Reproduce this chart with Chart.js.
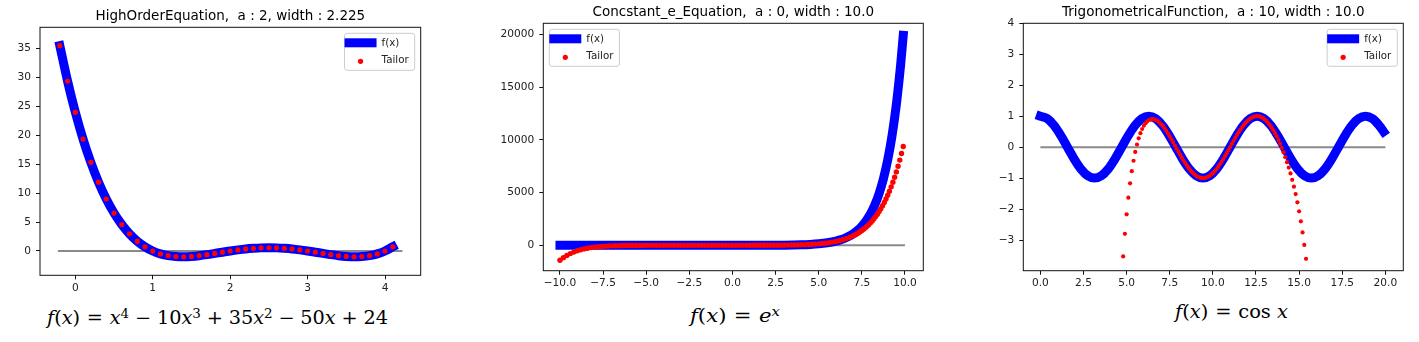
<!DOCTYPE html>
<html>
<head>
<meta charset="utf-8">
<title>Taylor series</title>
<script src="https://cdn.jsdelivr.net/npm/chart.js@4.4.0/dist/chart.umd.min.js"></script>
<style>
  body { margin: 0; background: #fff; width: 1419px; height: 342px; overflow: hidden; position: relative; }
  canvas { position: absolute; top: 0; }
  .eq { position: absolute; font-family: 'DejaVu Serif', serif; font-size: 18px; line-height: 20px;
        white-space: nowrap; transform-origin: 0 0; color: #000; }
  .eq .op { padding: 0 0.3em; }
  .eq .rel { padding: 0 0.35em; }
  .eq sup { font-size: 70%; line-height: 0; vertical-align: 0.5em; }
</style>
</head>
<body>

<canvas id="c1" width="430" height="304"></canvas>
<canvas id="c2" width="440" height="300"></canvas>
<canvas id="c3" width="434" height="300"></canvas>

<div class="eq" data-w="341" style="left:47px; top:308px;"><i>f</i>(<i>x</i>)<span class="rel">=</span><i>x</i><sup>4</sup><span class="op">&minus;</span>10<i>x</i><sup>3</sup><span class="op">+</span>35<i>x</i><sup>2</sup><span class="op">&minus;</span>50<i>x</i><span class="op">+</span>24</div>
<div class="eq" data-w="90" style="left:690px; top:306px;"><i>f</i>(<i>x</i>)<span class="rel">=</span><i>e</i><sup><i>x</i></sup></div>
<div class="eq" data-w="113" style="left:1175px; top:302px;"><i>f</i>(<i>x</i>)<span class="rel">=</span>cos <i>x</i></div>

<script>
// ================= DATA =================

const legendLabels = ["f(x)", "Tailor"];

// ---- HighOrderEquation (a = 2, width = 2.225) ----
const highTitle = "HighOrderEquation,  a : 2, width : 2.225";
const highX = [
    -0.2, -0.1, 0.0, 0.1, 0.2, 0.3, 0.4, 0.5, 0.6, 0.7, 0.8, 0.9,
    1.0, 1.1, 1.2, 1.3, 1.4, 1.5, 1.6, 1.7, 1.8, 1.9,
    2.0, 2.1, 2.2, 2.3, 2.4, 2.5, 2.6, 2.7, 2.8, 2.9,
    3.0, 3.1, 3.2, 3.3, 3.4, 3.5, 3.6, 3.7, 3.8, 3.9,
    4.0, 4.1
];
const highF = [
    35.48, 29.36, 24.0, 19.34, 15.32, 11.89, 8.99, 6.56, 4.57, 2.96, 1.69, 0.72,
    0.0, -0.50, -0.81, -0.96, -1.00, -0.94, -0.81, -0.63, -0.42, -0.21,
    0.0, 0.19, 0.35, 0.46, 0.54, 0.56, 0.54, 0.46, 0.35, 0.19,
    0.0, -0.21, -0.42, -0.63, -0.81, -0.94, -1.00, -0.96, -0.81, -0.50,
    0.0, 0.72
];
// the 4th order Taylor dots sit exactly on the curve
const highTailor = highF;
const highBase = [-0.225, 4.225];
const highXRange = [-0.456, 4.461];
const highYRange = [-4.2, 38.66];
const highXTicks = [0, 1, 2, 3, 4];
const highXLabels = ["0", "1", "2", "3", "4"];
const highYTicks = [0, 5, 10, 15, 20, 25, 30, 35];
const highYLabels = ["0", "5", "10", "15", "20", "25", "30", "35"];

// ---- Concstant_e_Equation (a = 0, width = 10.0) ----
const expTitle = "Concstant_e_Equation,  a : 0, width : 10.0";
const expFX = [-10, -8, -6, -4, -2, 0, 1, 2, 3, 4, 4.5, 5, 5.5, 6, 6.25, 6.5, 6.75, 7,
    7.25, 7.5, 7.75, 8, 8.25, 8.5, 8.75, 9, 9.25, 9.5, 9.75, 9.9];
const expFY = [0, 0, 0, 0, 0, 1, 3, 7, 20, 55, 90, 148, 245, 403, 518, 665, 854, 1097,
    1408, 1808, 2322, 2981, 3828, 4915, 6311, 8103, 10405, 13360, 17154, 19930];
const expTailorX = [
    -10, -9.8, -9.6, -9.4, -9.2, -9, -8.8, -8.6, -8.4, -8.2, -8, -7.8, -7.6, -7.4, -7.2, -7,
    -6.8, -6.6, -6.4, -6.2, -6, -5.8, -5.6, -5.4, -5.2, -5,
    -4.8, -4.6, -4.4, -4.2, -4, -3.8, -3.6, -3.4, -3.2, -3, -2.8, -2.6, -2.4, -2.2, -2,
    -1.8, -1.6, -1.4, -1.2, -1, -0.8,
    -0.6, -0.4, -0.2, 0,
    0.2, 0.4, 0.6, 0.8, 1,
    1.2, 1.4, 1.6, 1.8, 2,
    2.2, 2.4, 2.6, 2.8, 3,
    3.2, 3.4, 3.6, 3.8, 4,
    4.2, 4.4, 4.6, 4.8, 5,
    5.2, 5.4, 5.6, 5.8, 6,
    6.2, 6.4, 6.6, 6.8, 7,
    7.1, 7.2, 7.3, 7.4, 7.5, 7.6, 7.7, 7.8, 7.9, 8,
    8.1, 8.2, 8.3, 8.4, 8.5, 8.6, 8.7, 8.8, 8.9, 9,
    9.1, 9.2, 9.3, 9.4, 9.5, 9.6, 9.7, 9.8, 9.9
];
const expTailorY = [
    -1413, -1166, -959, -785, -639, -519, -419, -336, -269, -213, -169, -132, -103, -80, -61, -47,
    -36, -27, -20, -15, -11, -8, -5, -4, -3, -2,
    -1, -1, 0, 0, 0, 0, 0, 0, 0, 0, 0, 0, 0, 0, 0,
    0, 0, 0, 0, 0, 0,
    1, 1, 1, 1,
    1, 1, 2, 2, 3,
    3, 4, 5, 6, 7,
    9, 11, 13, 16, 20,
    25, 30, 37, 44, 54,
    66, 80, 98, 119, 144,
    174, 211, 254, 307, 370,
    444, 533, 639, 763, 911,
    994, 1084, 1183, 1289, 1404, 1528, 1663, 1809, 1966, 2136,
    2320, 2518, 2731, 2961, 3209, 3476, 3763, 4072, 4404, 4760,
    5142, 5553, 5993, 6466, 6972, 7513, 8093, 8714, 9377
];
const expBase = [-10, 10];
const expXRange = [-10.966, 11.063];
const expYRange = [-2406, 21076];
const expXTicks = [-10, -7.5, -5, -2.5, 0, 2.5, 5, 7.5, 10];
const expXLabels = ["\u221210.0", "\u22127.5", "\u22125.0", "\u22122.5", "0.0", "2.5", "5.0", "7.5", "10.0"];
const expYTicks = [0, 5000, 10000, 15000, 20000];
const expYLabels = ["0", "5000", "10000", "15000", "20000"];

// ---- TrigonometricalFunction (a = 10, width = 10.0) ----
const trigTitle = "TrigonometricalFunction,  a : 10, width : 10.0";
const trigFX = [
    0, 0.393, 0.785, 1.178, 1.571, 1.963, 2.356, 2.749, 3.142, 3.534, 3.927, 4.320, 4.712,
    5.105, 5.498, 5.890, 6.283, 6.676, 7.069, 7.461, 7.854, 8.247, 8.639, 9.032, 9.425,
    9.817, 10.210, 10.603, 10.996, 11.388, 11.781, 12.174, 12.566, 12.959, 13.352, 13.744,
    14.137, 14.530, 14.923, 15.315, 15.708, 16.101, 16.493, 16.886, 17.279, 17.671, 18.064,
    18.457, 18.850, 19.242, 19.635, 19.9
];
const trigFY = [
    1, 0.924, 0.707, 0.383, 0, -0.383, -0.707, -0.924, -1, -0.924, -0.707, -0.383, 0,
    0.383, 0.707, 0.924, 1, 0.924, 0.707, 0.383, 0, -0.383, -0.707, -0.924, -1,
    -0.924, -0.707, -0.383, 0, 0.383, 0.707, 0.924, 1, 0.924, 0.707, 0.383,
    0, -0.383, -0.707, -0.924, -1, -0.924, -0.707, -0.383, 0, 0.383, 0.707,
    0.924, 1, 0.924, 0.707, 0.497
];
const trigTailorX = [
    4.8, 4.9, 5.0, 5.1, 5.2, 5.3, 5.4, 5.5, 5.6, 5.7,
    5.8, 5.9, 6.0, 6.1, 6.2, 6.3, 6.4, 6.5, 6.6, 6.7,
    6.8, 6.9, 7.0, 7.1, 7.2, 7.3, 7.4, 7.5, 7.6, 7.7,
    7.8, 7.9, 8.0, 8.1, 8.2, 8.3, 8.4, 8.5, 8.6, 8.7,
    8.8, 8.9, 9.0, 9.1, 9.2, 9.3, 9.4, 9.5, 9.6, 9.7,
    9.8, 9.9, 10.0, 10.1, 10.2, 10.3, 10.4, 10.5, 10.6, 10.7,
    10.8, 10.9, 11.0, 11.1, 11.2, 11.3, 11.4, 11.5, 11.6, 11.7,
    11.8, 11.9, 12.0, 12.1, 12.2, 12.3, 12.4, 12.5, 12.6, 12.7,
    12.8, 12.9, 13.0, 13.1, 13.2, 13.3, 13.4, 13.5, 13.6, 13.7,
    13.8, 13.9, 14.0, 14.1, 14.2, 14.3, 14.4, 14.5, 14.6, 14.7,
    14.8, 14.9, 15.0, 15.1, 15.2, 15.3, 15.4
];
const trigTailorY = [
    -3.530, -2.798, -2.170, -1.631, -1.169, -0.775, -0.439, -0.154, 0.085, 0.286,
    0.451, 0.586, 0.693, 0.776, 0.836, 0.877, 0.900, 0.906, 0.898, 0.875,
    0.841, 0.795, 0.739, 0.685, 0.608, 0.526, 0.439, 0.347, 0.251, 0.153,
    0.054, -0.046, -0.146, -0.244, -0.339, -0.431, -0.519, -0.602, -0.679, -0.749,
    -0.811, -0.865, -0.911, -0.948, -0.975, -0.992, -1.000, -0.997, -0.985, -0.962,
    -0.931, -0.889, -0.839, -0.781, -0.714, -0.641, -0.561, -0.476, -0.385, -0.291,
    -0.194, -0.096, 0.004, 0.104, 0.203, 0.300, 0.394, 0.483, 0.568, 0.648,
    0.720, 0.786, 0.844, 0.893, 0.934, 0.965, 0.986, 0.998, 0.999, 0.991,
    0.973, 0.945, 0.897, 0.847, 0.786, 0.717, 0.637, 0.549, 0.451, 0.345,
    0.230, 0.106, -0.027, -0.170, -0.322, -0.486, -0.661, -0.850, -1.054, -1.275,
    -1.516, -1.781, -2.073, -2.396, -2.755, -3.156, -3.606
];
const trigBase = [0, 20];
const trigXRange = [-0.99, 21.04];
const trigYRange = [-3.99, 4];
const trigXTicks = [0, 2.5, 5, 7.5, 10, 12.5, 15, 17.5, 20];
const trigXLabels = ["0.0", "2.5", "5.0", "7.5", "10.0", "12.5", "15.0", "17.5", "20.0"];
const trigYTicks = [-3, -2, -1, 0, 1, 2, 3, 4];
const trigYLabels = ["\u22123", "\u22122", "\u22121", "0", "1", "2", "3", "4"];

// ================= HELPERS =================

const TITLE_SIZE = 13.5;
const TICK_SIZE = 10.6;

Chart.defaults.font.family = "'DejaVu Sans', sans-serif";
Chart.defaults.font.size = TICK_SIZE;
Chart.defaults.color = "#222";

function pts(xs, ys) {
    return xs.map((x, i) => ({ x: x, y: ys[i] }));
}

function roundRect(ctx, x, y, w, h, r) {
    ctx.beginPath();
    ctx.moveTo(x + r, y);
    ctx.arcTo(x + w, y, x + w, y + h, r);
    ctx.arcTo(x + w, y + h, x, y + h, r);
    ctx.arcTo(x, y + h, x, y, r);
    ctx.arcTo(x, y, x + w, y, r);
    ctx.closePath();
}

// box round the plot area (matplotlib spines)
const frame = {
    id: "frame",
    afterDraw(chart) {
        const { ctx, chartArea: a } = chart;
        ctx.save();
        ctx.strokeStyle = "#111";
        ctx.lineWidth = 1;
        ctx.strokeRect(a.left, a.top, a.right - a.left, a.bottom - a.top);
        ctx.restore();
    }
};

// legend drawn inside the plot area
const boxLegend = {
    id: "boxLegend",
    afterDatasetsDraw(chart, args, opts) {
        const { ctx, chartArea: a } = chart;
        ctx.save();
        ctx.font = "10.3px 'DejaVu Sans'";
        const tw = Math.max(ctx.measureText(legendLabels[0]).width, ctx.measureText(legendLabels[1]).width);
        const w = 37 + tw + 6;
        const h = 37;
        const x = opts.side === "left" ? a.left + 6 : a.right - 6 - w;
        const y = a.top + 6;

        roundRect(ctx, x, y, w, h, 2.5);
        ctx.fillStyle = "rgba(255,255,255,0.8)";
        ctx.fill();
        ctx.strokeStyle = "#cccccc";
        ctx.lineWidth = 1;
        ctx.stroke();

        ctx.fillStyle = "#0000ff";
        ctx.fillRect(x, y + 5, 32, 9);

        ctx.fillStyle = "#ff0000";
        ctx.beginPath();
        ctx.arc(x + 16, y + 28, 2.6, 0, Math.PI * 2);
        ctx.fill();

        ctx.fillStyle = "#222";
        ctx.textBaseline = "middle";
        ctx.fillText(legendLabels[0], x + 37, y + 10);
        ctx.fillText(legendLabels[1], x + 37, y + 27);
        ctx.restore();
    }
};

function axis(range, ticks, labels, pad, fit) {
    return {
        type: "linear",
        min: range[0],
        max: range[1],
        grid: { drawOnChartArea: false, drawTicks: true, tickLength: 4, color: "#111", lineWidth: 1 },
        border: { display: false },
        ticks: {
            autoSkip: false,
            maxRotation: 0,
            padding: pad,
            color: "#222",
            callback: (v, i) => labels[i]
        },
        afterBuildTicks: s => { s.ticks = ticks.map(v => ({ value: v })); },
        afterFit: fit
    };
}

function makePanel(p, d) {
    const cv = document.getElementById(p.id);
    cv.style.left = p.left + "px";
    const titleLine = TITLE_SIZE * 1.2;
    const titleTop = p.titleMid - titleLine / 2;

    new Chart(cv, {
        type: "scatter",
        data: {
            datasets: [
                {
                    label: legendLabels[1],
                    data: pts(d.tx, d.ty),
                    pointRadius: p.dot,
                    pointBackgroundColor: "#ff0000",
                    pointBorderWidth: 0,
                    order: 0
                },
                {
                    label: legendLabels[0],
                    data: pts(d.fx, d.fy),
                    showLine: true,
                    borderColor: "#0000ff",
                    borderWidth: 9,
                    borderCapStyle: "square",
                    borderJoinStyle: "round",
                    cubicInterpolationMode: "monotone",
                    pointRadius: 0,
                    order: 1
                },
                {
                    label: "zero",
                    data: pts(d.base, [0, 0]),
                    showLine: true,
                    borderColor: "#8a8a8a",
                    borderWidth: 2,
                    pointRadius: 0,
                    order: 2
                }
            ]
        },
        options: {
            responsive: false,
            animation: false,
            events: [],
            layout: { padding: { left: 0, top: 0, bottom: 0, right: p.left + cv.width - p.area.r } },
            plugins: {
                legend: { display: false },
                tooltip: { enabled: false },
                title: {
                    display: true,
                    text: d.title,
                    fullSize: false,
                    color: "#000",
                    font: { size: TITLE_SIZE, weight: "normal" },
                    padding: { top: titleTop, bottom: p.area.t - titleTop - titleLine }
                },
                boxLegend: { side: p.legendSide }
            },
            scales: {
                x: axis(d.xRange, d.xTicks, d.xLabels, 2.5, s => { s.height = cv.height - p.area.b; }),
                y: axis(d.yRange, d.yTicks, d.yLabels, 5, s => { s.width = p.area.l - p.left; })
            }
        },
        plugins: [frame, boxLegend]
    });
}

// ================= PANELS =================

makePanel(
    { id: "c1", left: 0, area: { l: 40, r: 420.7, t: 27.3, b: 275.3 }, titleMid: 16, legendSide: "right", dot: 2.6 },
    { title: highTitle, fx: highX, fy: highF, tx: highX, ty: highTailor, base: highBase,
      xRange: highXRange, yRange: highYRange, xTicks: highXTicks, xLabels: highXLabels, yTicks: highYTicks, yLabels: highYLabels }
);

makePanel(
    { id: "c2", left: 490, area: { l: 543.3, r: 923.3, t: 23.3, b: 270.7 }, titleMid: 12.7, legendSide: "left", dot: 2.7 },
    { title: expTitle, fx: expFX, fy: expFY, tx: expTailorX, ty: expTailorY, base: expBase,
      xRange: expXRange, yRange: expYRange, xTicks: expXTicks, xLabels: expXLabels, yTicks: expYTicks, yLabels: expYLabels }
);

makePanel(
    { id: "c3", left: 985, area: { l: 1023.3, r: 1403.3, t: 23.3, b: 270.7 }, titleMid: 12, legendSide: "right", dot: 2.1 },
    { title: trigTitle, fx: trigFX, fy: trigFY, tx: trigTailorX, ty: trigTailorY, base: trigBase,
      xRange: trigXRange, yRange: trigYRange, xTicks: trigXTicks, xLabels: trigXLabels, yTicks: trigYTicks, yLabels: trigYLabels }
);

// ================= EQUATIONS =================

function fitEquations() {
    document.querySelectorAll(".eq").forEach(el => {
        el.style.transform = "";
        const natural = el.getBoundingClientRect().width;
        const target = parseFloat(el.dataset.w);
        el.style.transform = "scaleX(" + (target / natural) + ")";
    });
}

fitEquations();
</script>
</body>
</html>
